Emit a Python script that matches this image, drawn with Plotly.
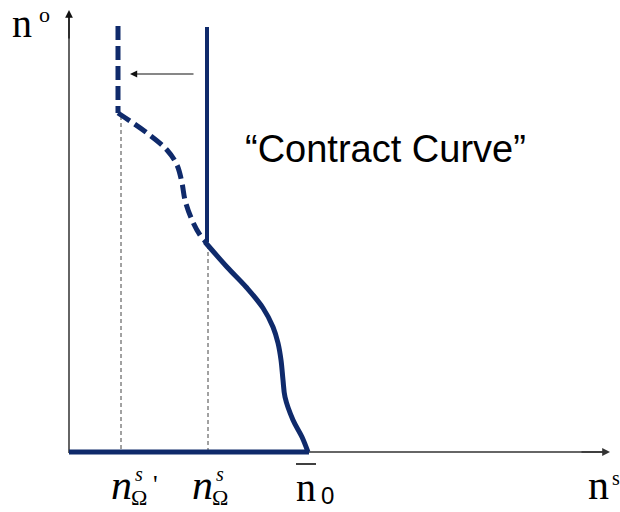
import plotly.graph_objects as go

# ---- data (figure units: 620 x 512 canvas, y downward) ----
navy = "#0f2a6b"

# horizontal thick segment on the n^s axis (0 .. n0bar)
base_x = [69, 309]
base_y = [452, 452]

# original (solid) contract curve: vertical part + curved part
solid_vert_x = [207, 207]
solid_vert_y = [27, 242]
solid_curve_x = [205, 227, 247, 263, 273, 278, 281, 283, 285, 293, 302, 308]
solid_curve_y = [242, 267, 288, 308, 327, 343, 360, 380, 397, 420, 437, 452]

# shifted (dashed) contract curve: vertical part + curved part
dash_vert_x = [118, 118]
dash_vert_y = [26, 113]
dash_curve_x = [118, 147, 167, 177, 182, 185, 192, 200, 207]
dash_curve_y = [113, 133, 150, 165, 183, 200, 220, 235, 243]

# guide lines
guide1_x = [121, 121]
guide1_y = [116, 452]
guide2_x = [208, 208]
guide2_y = [245, 452]

fig = go.Figure()

fig.add_trace(go.Scatter(x=guide1_x, y=guide1_y, mode="lines",
                         line=dict(color="#444", width=1, dash="4px,3px"), hoverinfo="skip"))
fig.add_trace(go.Scatter(x=guide2_x, y=guide2_y, mode="lines",
                         line=dict(color="#444", width=1, dash="4px,3px"), hoverinfo="skip"))

# axes
fig.add_trace(go.Scatter(x=[69, 69], y=[453, 16], mode="lines",
                         line=dict(color="#111", width=1.3), hoverinfo="skip"))
fig.add_trace(go.Scatter(x=[69, 604], y=[452, 452], mode="lines",
                         line=dict(color="#333", width=1.3), hoverinfo="skip"))

fig.add_trace(go.Scatter(x=base_x, y=base_y, mode="lines",
                         line=dict(color=navy, width=5), hoverinfo="skip"))
fig.add_trace(go.Scatter(x=solid_vert_x, y=solid_vert_y, mode="lines",
                         line=dict(color=navy, width=4), hoverinfo="skip"))
fig.add_trace(go.Scatter(x=solid_curve_x, y=solid_curve_y, mode="lines",
                         line=dict(color=navy, width=5, shape="spline", smoothing=1),
                         hoverinfo="skip"))
fig.add_trace(go.Scatter(x=dash_vert_x, y=dash_vert_y, mode="lines",
                         line=dict(color=navy, width=5, dash="14px,6px"),
                         hoverinfo="skip"))
fig.add_trace(go.Scatter(x=dash_curve_x, y=dash_curve_y, mode="lines",
                         line=dict(color=navy, width=5, dash="14px,6px", shape="spline",
                                   smoothing=1),
                         hoverinfo="skip"))

serif = "Liberation Serif"
ann = []
# axis arrowheads
ann.append(dict(x=69, y=10, ax=69, ay=40, xref="x", yref="y", axref="x", ayref="y",
                showarrow=True, arrowhead=2, arrowsize=1.2, arrowwidth=1.3,
                arrowcolor="#111", text=""))
ann.append(dict(x=610, y=452, ax=580, ay=452, xref="x", yref="y", axref="x", ayref="y",
                showarrow=True, arrowhead=2, arrowsize=1.2, arrowwidth=1.3,
                arrowcolor="#333", text=""))
# shift arrow
ann.append(dict(x=130, y=74, ax=195, ay=74, xref="x", yref="y", axref="x", ayref="y",
                showarrow=True, arrowhead=2, arrowsize=1.2, arrowwidth=1.2,
                arrowcolor="#111", text=""))

def txt(x, y, s, size, family=serif, xa="center", ya="middle"):
    ann.append(dict(x=x, y=y, xref="x", yref="y", text=s, showarrow=False,
                    xanchor=xa, yanchor=ya,
                    font=dict(family=family, size=size, color="black")))

txt(22, 23, "n", 40)
txt(44, 14, "o", 22)
txt(598, 485, "n", 42)
txt(616, 478, "s", 20)
txt(306, 487, "n", 40)
txt(327, 495, "0", 24, family="Liberation Sans")
txt(121, 485, "<i>n</i>", 42)
txt(139, 474, "<i>s</i>", 20)
txt(139, 497, "\u03a9", 22)
txt(155, 484, "'", 26)
txt(202, 485, "<i>n</i>", 42)
txt(220, 474, "<i>s</i>", 20)
txt(220, 497, "\u03a9", 22)
txt(385, 149, "\u201cContract Curve\u201d", 38, family="Liberation Sans")

fig.update_layout(
    width=620, height=512, margin=dict(l=0, r=0, t=0, b=0),
    paper_bgcolor="white", plot_bgcolor="white", showlegend=False,
    xaxis=dict(range=[0, 620], visible=False, fixedrange=True),
    yaxis=dict(range=[512, 0], visible=False, fixedrange=True),
    annotations=ann,
    shapes=[dict(type="line", xref="x", yref="y", x0=296, x1=316, y0=464, y1=464,
                 line=dict(color="black", width=1.5))],
)
fig.write_html("out.html")
